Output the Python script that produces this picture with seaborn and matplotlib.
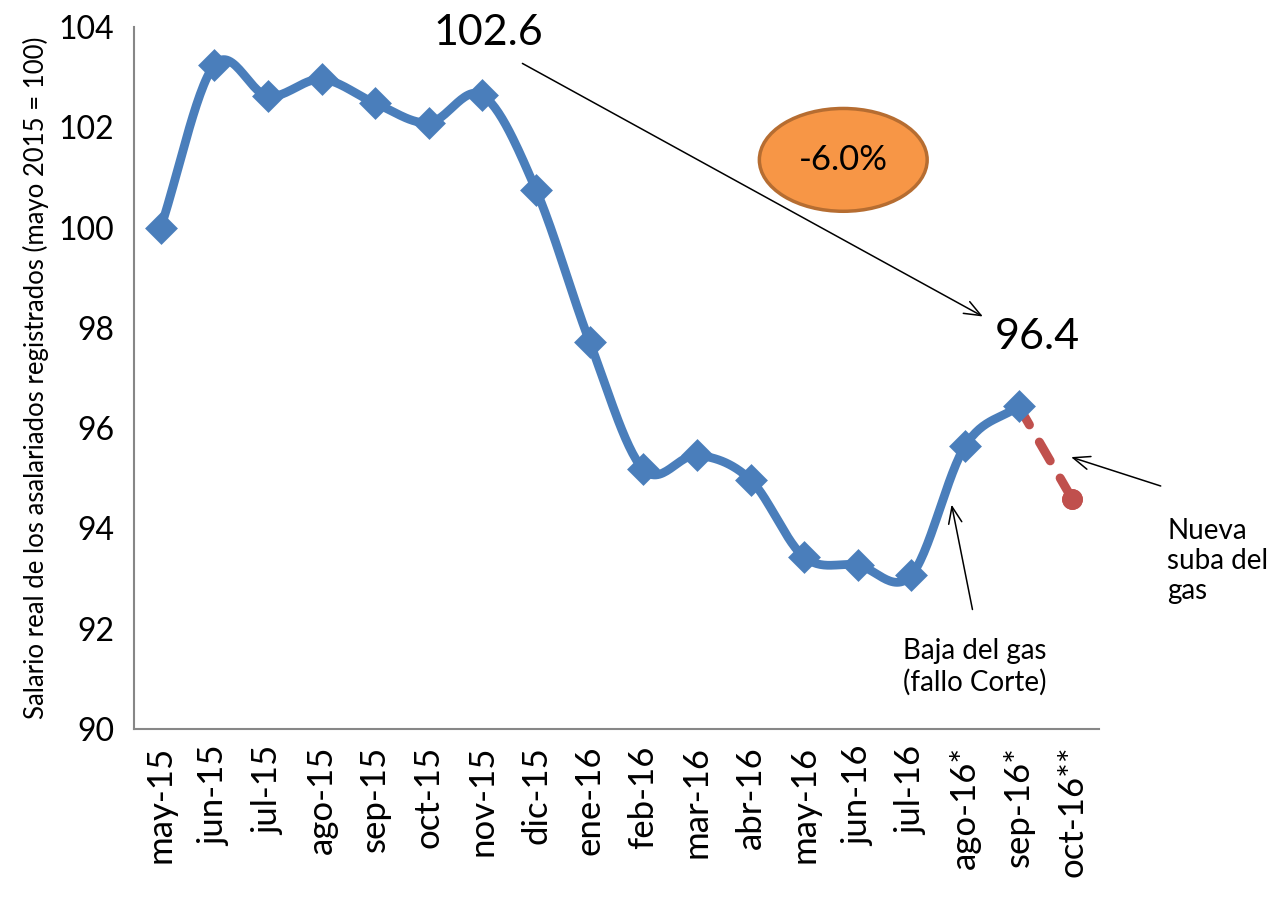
import numpy as np
import pandas as pd
import matplotlib
matplotlib.use("Agg")
import matplotlib.pyplot as plt
from matplotlib.patches import Ellipse
from matplotlib.ticker import FixedLocator, NullFormatter
import seaborn as sns

# ---- data ----
meses = ["may-15", "jun-15", "jul-15", "ago-15", "sep-15", "oct-15", "nov-15",
         "dic-15", "ene-16", "feb-16", "mar-16", "abr-16", "may-16", "jun-16",
         "jul-16", "ago-16*", "sep-16*", "oct-16**"]
salario = [100.0, 103.24, 102.62, 102.96, 102.48, 102.09, 102.64, 100.75, 97.72,
           95.18, 95.46, 94.97, 93.43, 93.27, 93.07, 95.64, 96.44]
proyeccion_meses = ["sep-16*", "oct-16**"]
proyeccion = [96.44, 94.59]
yticks = [90, 92, 94, 96, 98, 100, 102, 104]
ylabel = "Salario real de los asalariados registrados (mayo 2015 = 100)"

sns.set_theme(style="white")
plt.rcParams['font.family'] = ['Lato', 'DejaVu Sans']
plt.rcParams['text.color'] = 'black'
plt.rcParams['axes.labelcolor'] = 'black'
plt.rcParams['xtick.color'] = 'black'
plt.rcParams['ytick.color'] = 'black'

BLUE = "#4A7EBB"
RED = "#C0504D"
GRAY = "#878787"

fig = plt.figure(figsize=(12.72, 8.99), dpi=100)
ax = fig.add_axes([0.1053, 0.189, 0.7587, 0.781])

pos = {m: i for i, m in enumerate(meses)}
x = np.array([pos[m] for m in meses[:len(salario)]], dtype=float)
y = np.array(salario)

# Catmull-Rom smoothing (visual rendering like Excel's smoothed line)
def catmull(xp, yp, n=30):
    P = np.column_stack([xp, yp])
    P = np.vstack([P[0] - (P[1] - P[0]), P, P[-1] + (P[-1] - P[-2])])
    out = []
    for i in range(1, len(P) - 2):
        p0, p1, p2, p3 = P[i - 1], P[i], P[i + 1], P[i + 2]
        t = np.linspace(0, 1, n, endpoint=False)[:, None]
        c = 0.5 * ((2 * p1) + (-p0 + p2) * t + (2 * p0 - 5 * p1 + 4 * p2 - p3) * t ** 2
                   + (-p0 + 3 * p1 - 3 * p2 + p3) * t ** 3)
        out.append(c)
    out.append(P[-2][None, :])
    return np.vstack(out)

curve = catmull(x, y)
df_curve = pd.DataFrame({"x": curve[:, 0], "y": curve[:, 1]})
df_pts = pd.DataFrame({"x": x, "y": y})
df_proj = pd.DataFrame({"x": [pos[m] for m in proyeccion_meses], "y": proyeccion})

sns.lineplot(data=df_proj, x="x", y="y", ax=ax, color=RED, lw=6.5, sort=False)
ax.lines[-1].set_linestyle((0, (2.4, 2.2)))
ax.lines[-1].set_dash_capstyle("round")
sns.scatterplot(data=df_proj, x="x", y="y", ax=ax, color=RED, s=220, marker="o",
                linewidth=0, zorder=2)
sns.lineplot(data=df_curve, x="x", y="y", ax=ax, color=BLUE, lw=6.3, sort=False,
             estimator=None, zorder=3)
sns.scatterplot(data=df_pts, x="x", y="y", ax=ax, color=BLUE, marker="D", s=280,
                linewidth=0, zorder=4)
ax.plot(df_proj["x"].iloc[-1:], df_proj["y"].iloc[-1:], "o", color=RED, ms=14, zorder=5)

ax.set_xlim(-0.5, len(meses) - 0.5)
ax.set_ylim(90, 104)
ax.set_yticks(yticks)
ax.set_yticklabels([str(v) for v in yticks])
ax.xaxis.set_major_locator(FixedLocator(np.arange(-0.5, len(meses), 1.0)))
ax.xaxis.set_major_formatter(NullFormatter())
ax.xaxis.set_minor_locator(FixedLocator(np.arange(len(meses))))
ax.set_xticklabels(meses, minor=True, rotation=90)
ax.tick_params(axis="x", which="minor", length=0, labelsize=25, pad=12, labelcolor="black")
ax.tick_params(axis="x", which="major", length=12, width=1.5, color=GRAY, direction="out")
ax.tick_params(axis="y", length=10, width=1.5, color=GRAY, labelsize=23, labelcolor="black",
               direction="out", pad=4)
for s in ["top", "right"]:
    ax.spines[s].set_visible(False)
for s in ["left", "bottom"]:
    ax.spines[s].set_color(GRAY)
    ax.spines[s].set_linewidth(1.5)
ax.set_xlabel("")
ax.set_ylabel(ylabel, fontsize=18.5, color="black")
ax.yaxis.set_label_coords(-0.088, 0.5)

# annotations
arrow = dict(arrowstyle="->,head_length=1.0,head_width=0.4", color="black", lw=1.1)
ax.text(6.11, 103.88, "102.6", fontsize=31, ha="center", va="center", clip_on=False)
ax.text(16.35, 97.82, "96.4", fontsize=31, ha="center", va="center", clip_on=False)
ax.annotate("", xy=(15.38, 98.20), xytext=(6.70, 103.30), arrowprops=arrow)
ax.annotate("", xy=(16.93, 95.44), xytext=(18.70, 94.83), annotation_clip=False,
            arrowprops=arrow)
ax.annotate("", xy=(14.74, 94.53), xytext=(15.15, 92.33), arrowprops=arrow)
ax.text(15.19, 91.24, "Baja del gas\n(fallo Corte)", fontsize=20, ha="center", va="center",
        linespacing=1.25)
ax.text(18.77, 93.35, "Nueva\nsuba del\ngas", fontsize=20, ha="left", va="center",
        linespacing=1.2, clip_on=False)

ell = Ellipse((12.73, 101.35), width=3.13, height=2.05, facecolor="#F79646",
              edgecolor="#B66D31", lw=2.5, zorder=6)
ax.add_patch(ell)
ax.text(12.73, 101.35, "-6.0%", fontsize=25, ha="center", va="center", zorder=7)

fig.savefig("out.png", dpi=100)
